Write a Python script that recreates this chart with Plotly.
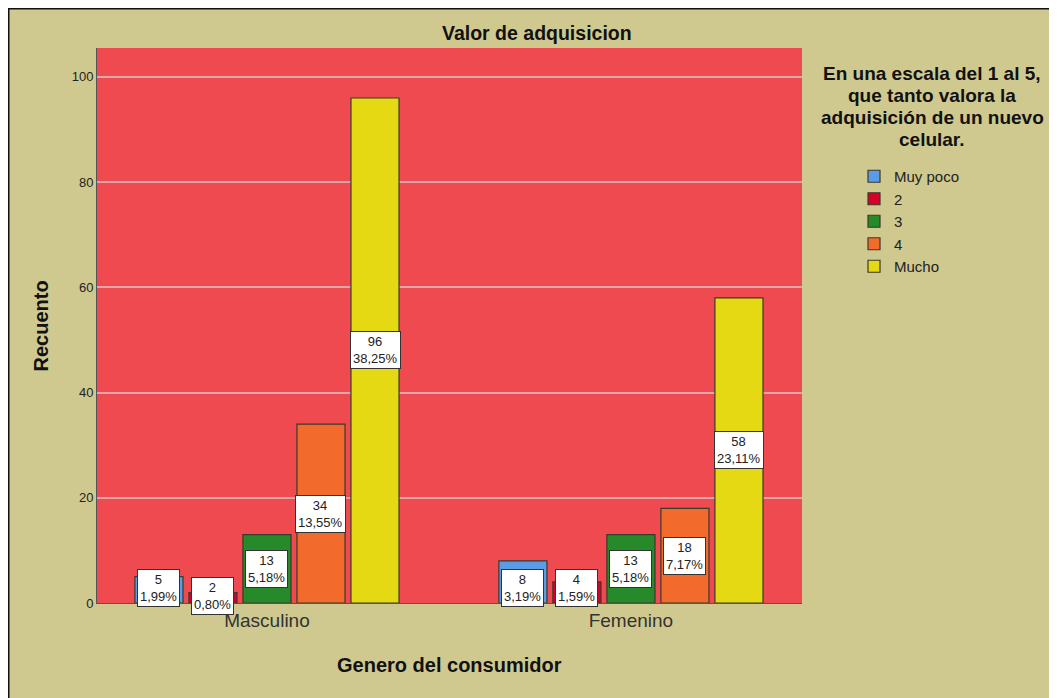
import plotly.graph_objects as go

categories = ["Masculino", "Femenino"]
series_names = ["Muy poco", "2", "3", "4", "Mucho"]
counts = {
    "Muy poco": [5, 8],
    "2": [2, 4],
    "3": [13, 13],
    "4": [34, 18],
    "Mucho": [96, 58],
}
total = 251
colors = ["#5b9be8", "#d6002c", "#268a2a", "#f26a2c", "#e4d912"]
y_ticks = [0, 20, 40, 60, 80, 100]
legend_title_lines = ["En una escala del 1 al 5,", "que tanto valora la",
                      "adquisición de un nuevo", "celular."]

FONT = "Liberation Sans, Arial, sans-serif"
BG = "#cfc98f"
PLOT_BG = "#ee4a4f"

# figure pixel geometry (page body has an 8px margin)
W, H = 1049, 690
L, R, T, B = 89, 1049 - 794, 40, 690 - 595
PW, PH = 794 - 89, 595 - 40


def px(xf):
    return (xf - L) / PW


def py(yf):
    return (595 - yf) / PH


x_pos = list(range(len(categories)))
n = len(series_names)
bargap = 0.258
bargroupgap = 0.11
slot = (1 - bargap) / n

fig = go.Figure()
annotations = []
for i, (name, col) in enumerate(zip(series_names, colors)):
    vals = counts[name]
    fig.add_trace(go.Bar(
        name=name, x=x_pos, y=vals,
        marker=dict(color=col, line=dict(color="#3a3a2a", width=1.2)),
        hoverinfo="y",
    ))
    for xc, v in zip(x_pos, vals):
        xa = xc + (i - (n - 1) / 2) * slot
        pct = f"{v / total * 100:.2f}".replace(".", ",") + "%"
        if v <= 3:
            ya = 1.3
        elif v <= 8:
            ya = 2.9
        else:
            ya = v / 2
        annotations.append(dict(
            x=xa, y=ya, xref="x", yref="y",
            text=f"{v}<br>{pct}", showarrow=False,
            font=dict(family=FONT, size=13, color="#222"),
            bgcolor="white", bordercolor="#333", borderwidth=1, borderpad=2,
            align="center",
        ))

for k, line in enumerate(legend_title_lines):
    annotations.append(dict(
        x=px(924), y=py(65 + 22.3 * k), xref="paper", yref="paper",
        xanchor="center", yanchor="middle", showarrow=False,
        text=f"<b>{line}</b>",
        font=dict(family=FONT, size=19, color="#111"),
    ))
annotations.append(dict(
    x=px(529), y=py(25), xref="paper", yref="paper",
    xanchor="center", yanchor="middle", showarrow=False,
    text="<b>Valor de adquisicion</b>",
    font=dict(family=FONT, size=19.5, color="#111"),
))
annotations.append(dict(
    x=px(32), y=0.5, xref="paper", yref="paper", textangle=-90,
    xanchor="center", yanchor="middle", showarrow=False,
    text="<b>Recuento</b>",
    font=dict(family=FONT, size=20, color="#111"),
))
annotations.append(dict(
    x=0.5, y=py(657), xref="paper", yref="paper",
    xanchor="center", yanchor="middle", showarrow=False,
    text="<b>Genero del consumidor</b>",
    font=dict(family=FONT, size=20, color="#111"),
))

fig.update_layout(
    width=W, height=H,
    margin=dict(l=L, r=R, t=T, b=B, autoexpand=False),
    paper_bgcolor=BG, plot_bgcolor=PLOT_BG,
    barmode="group", bargap=bargap, bargroupgap=bargroupgap,
    font=dict(family=FONT, color="#222"),
    annotations=annotations,
    showlegend=True,
    legend=dict(
        x=px(846), y=py(152), xanchor="left", yanchor="top",
        bgcolor="rgba(0,0,0,0)", font=dict(family=FONT, size=15, color="#222"),
        itemclick=False,
    ),
    xaxis=dict(
        range=[-0.467, 1.470], tickvals=x_pos, ticktext=categories,
        tickfont=dict(family=FONT, size=19, color="#333"),
        showgrid=False, zeroline=False, showline=True, linecolor="#555", linewidth=1,
    ),
    yaxis=dict(
        range=[0, 105.5], tickvals=y_ticks,
        tickfont=dict(family=FONT, size=13, color="#222"),
        showgrid=True, gridcolor="rgba(215,185,185,0.85)", gridwidth=1.5,
        zeroline=False, showline=True, linecolor="#555", linewidth=1,
    ),
    shapes=[
        dict(type="line", xref="paper", yref="paper",
             x0=px(0), x1=px(W), y0=py(0), y1=py(0),
             line=dict(color="#111", width=3)),
        dict(type="line", xref="paper", yref="paper",
             x0=px(0), x1=px(0), y0=py(0), y1=py(H),
             line=dict(color="#111", width=3)),
    ],
)

fig.write_html("out.html")
